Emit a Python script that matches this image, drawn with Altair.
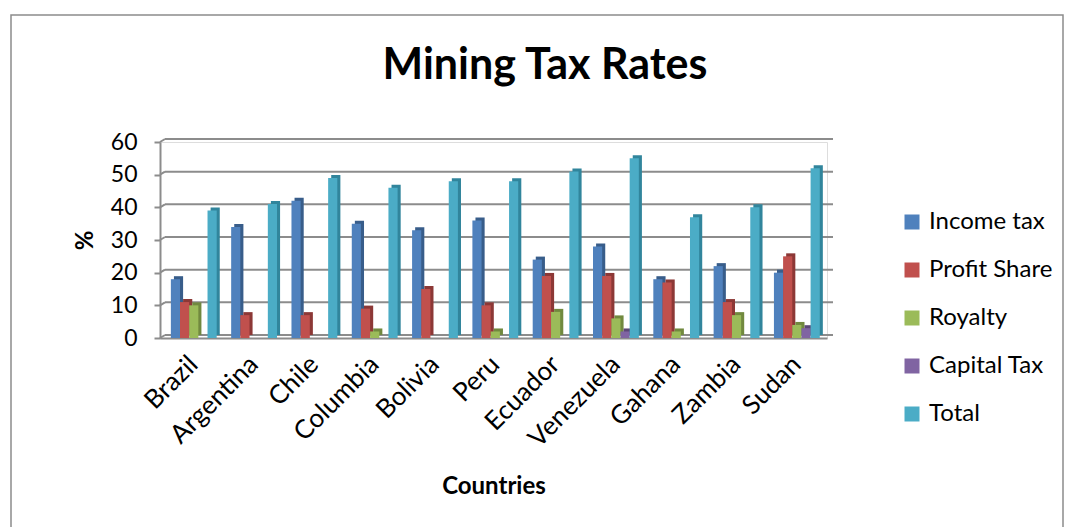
import altair as alt
import pandas as pd

countries = ["Brazil", "Argentina", "Chile", "Columbia", "Bolivia", "Peru",
             "Ecuador", "Venezuela", "Gahana", "Zambia", "Sudan"]
series = ["Income tax", "Profit Share", "Royalty", "Capital Tax", "Total"]
income_tax = [18, 34, 42, 35, 33, 36, 24, 28, 18, 22, 20]
profit_share = [11, 7, 7, 9, 15, 10, 19, 19, 17, 11, 25]
royalty = [10, 0, 0, 2, 0, 2, 8, 6, 2, 7, 4]
capital_tax = [0, 0, 0, 0, 0, 0, 0, 2, 0, 0, 3]
total = [39, 41, 49, 46, 48, 48, 51, 55, 37, 40, 52]
y_ticks = [0, 10, 20, 30, 40, 50, 60]
chart_title = ["Mining Tax Rates"]

colors = ["#4F81BD", "#C0504D", "#9BBB59", "#8064A2", "#4BACC6"]
dark_colors = ["#385D8A", "#8C3836", "#71893F", "#5C4776", "#31859C"]

values_by_series = [income_tax, profit_share, royalty, capital_tax, total]
rows = []
for s, vals in zip(series, values_by_series):
    for c, v in zip(countries, vals):
        rows.append({"country": c, "series": s, "value": v})
df = pd.DataFrame(rows)
grid_df = pd.DataFrame({"v": y_ticks})
frame_df = pd.DataFrame({"a": [0]})
title_df = pd.DataFrame({"t": chart_title})

FONT = "Lato"
GRID = "#8c8c8c"
W, H = 667, 196

yscale = alt.Scale(domain=[0, 60], nice=False)
y_axis = alt.Axis(values=y_ticks, title="%", titleFont=FONT, titleFontSize=24,
                  titleFontWeight="bold", titleColor="black",
                  titleAngle=-90, titleX=-75, titleY=98,
                  titleAlign="center", titleBaseline="middle",
                  labelFont=FONT, labelFontSize=23, labelColor="black",
                  labelPadding=17, tickSize=6, tickColor=GRID, tickWidth=2,
                  domainColor=GRID, domainWidth=2, grid=False)

frame = alt.Chart(frame_df).mark_rect(filled=False, stroke=GRID, strokeWidth=1.5).encode(
    x=alt.value(-149), x2=alt.value(903), y=alt.value(-127), y2=alt.value(420)
)

title = alt.Chart(title_df).mark_text(
    font=FONT, fontSize=43, fontWeight="bold", color="black",
    align="center", baseline="alphabetic"
).encode(x=alt.value(385), y=alt.value(-63), text="t:N")

grid = alt.Chart(grid_df).mark_rule(color=GRID, strokeWidth=2, yOffset=-3).encode(
    x=alt.value(5), x2=alt.value(W + 6),
    y=alt.Y("v:Q", scale=yscale, axis=y_axis),
)

connectors = alt.Chart(grid_df).mark_rule(color=GRID, strokeWidth=2, y2Offset=-3).encode(
    x=alt.value(0), x2=alt.value(5),
    y=alt.Y("v:Q", scale=yscale, axis=y_axis),
    y2=alt.Y2("v:Q"),
)

shadow = alt.Chart(df).mark_bar(yOffset=-3).encode(
    x=alt.X("country:N", sort=countries, axis=None,
            scale=alt.Scale(paddingInner=0.24, paddingOuter=0.15, align=0.77)),
    xOffset=alt.XOffset("series:N", sort=series, scale=alt.Scale(paddingInner=0.0)),
    y=alt.Y("value:Q", scale=yscale, axis=y_axis),
    color=alt.Color("series:N", sort=series,
                    scale=alt.Scale(domain=series, range=dark_colors), legend=None),
)

front = alt.Chart(df).mark_bar().encode(
    x=alt.X("country:N", sort=countries,
            scale=alt.Scale(paddingInner=0.24, paddingOuter=0.15, align=0.6),
            axis=alt.Axis(title="Countries", titleFont=FONT, titleFontSize=24,
                          titleFontWeight="bold", titleColor="black",
                          titleY=155, titleBaseline="alphabetic",
                          labelAngle=-45, labelAlign="right", labelBaseline="middle",
                          labelPadding=22, labelFont=FONT, labelFontSize=26,
                          labelColor="black", ticks=False,
                          domainColor=GRID, domainWidth=2)),
    xOffset=alt.XOffset("series:N", sort=series, scale=alt.Scale(paddingInner=0.0)),
    y=alt.Y("value:Q", scale=yscale, axis=y_axis),
    color=alt.Color("series:N", sort=series,
                    scale=alt.Scale(domain=series, range=colors),
                    legend=alt.Legend(title=None, orient="none", legendX=740, legendY=68,
                                      symbolType="square", symbolSize=225,
                                      symbolStrokeWidth=0, labelFont=FONT,
                                      labelFontSize=24, labelColor="black",
                                      labelOffset=5, rowPadding=24, padding=0)),
)

chart = alt.layer(frame, title, grid, connectors, shadow, front).resolve_scale(
    x="independent", color="independent"
).properties(
    width=W, height=H,
    autosize=alt.AutoSizeParams(type="none"),
    padding={"left": 160, "top": 142, "right": 238, "bottom": 189},
).configure_view(strokeWidth=0, stroke="transparent").configure(font=FONT, background="white")

chart.save("out.html", embed_options={"renderer": "svg", "actions": False})
